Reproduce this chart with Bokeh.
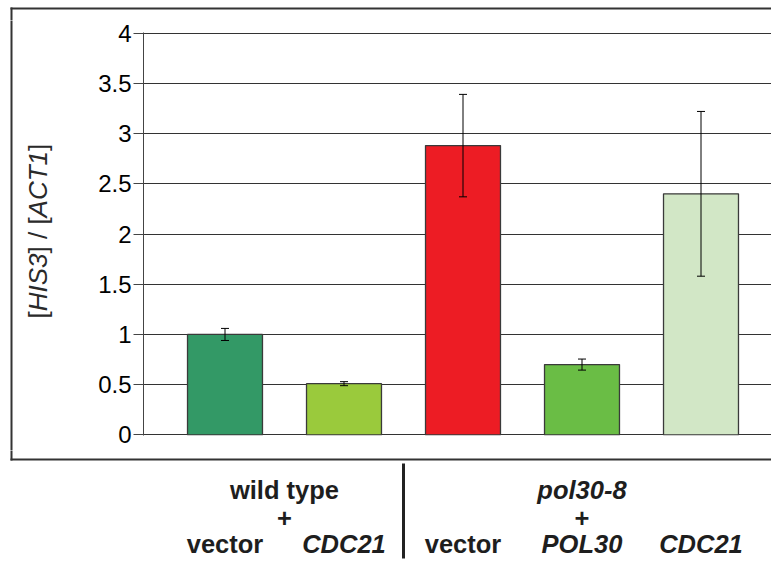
import math
from bokeh.plotting import figure
from bokeh.layouts import column, row
from bokeh.models import (Range1d, ColumnDataSource, Whisker, TeeHead,
                          FixedTicker, NumeralTickFormatter)
from bokeh.core.properties import value
from bokeh.embed import file_html
from bokeh.resources import INLINE

# ---------------- data ----------------
categories = ["wild type + vector", "wild type + CDC21",
              "pol30-8 + vector", "pol30-8 + POL30", "pol30-8 + CDC21"]
values = [1.00, 0.51, 2.88, 0.70, 2.40]
errors = [0.06, 0.02, 0.51, 0.055, 0.82]
colors = ["#339966", "#9aca3c", "#ed1c24", "#6abd45", "#d2e7c6"]
y_ticks = [0, 0.5, 1, 1.5, 2, 2.5, 3, 3.5, 4]
y_tick_labels = ["0", "0.5", "1", "1.5", "2", "2.5", "3", "3.5", "4"]
group_labels = ["wild type", "pol30-8"]
group_italic = [False, True]
group_members = [[0, 1], [2, 3, 4]]
sub_labels = ["vector", "CDC21", "vector", "POL30", "CDC21"]
sub_italic = [False, True, False, True, True]
y_label_parts = ["[", "HIS3", "] / [", "ACT1", "]"]
y_label_italic = [False, True, False, True, False]

# ---------------- layout (page pixels) ----------------
W, H = 771, 563
TOP_H = 20          # strip above chart
LEFT_W = 95         # strip left of chart
CHART_H = 430       # chart figure height
BOT_H = H - TOP_H - CHART_H
FRAME_L = 143       # page x of the y axis
FRAME_T = 32        # page y of value 4
FRAME_B = 435       # page y of value 0
PX_CAT = 119.0
X0 = 1 - (224.5 - FRAME_L) / PX_CAT
X1 = X0 + (W - FRAME_L) / PX_CAT
YPAD = 0.006
BOX_L, BOX_T, BOX_B = 11, 8, 459
LINE_C = "#333333"
FONT = "Liberation Sans"
TXT_SHIFT = 8.5     # baseline compensation for text glyphs


def xcat(px):
    return X0 + (px - FRAME_L) / PX_CAT


def yup(py):
    return H - py


def plain_fig(w, h, xr, yr):
    f = figure(width=w, height=h, x_range=xr, y_range=yr,
               output_backend="svg", toolbar_location=None,
               x_axis_type=None, y_axis_type=None,
               min_border=0, min_border_left=0, min_border_right=0,
               min_border_top=0, min_border_bottom=0)
    f.frame_align = False
    f.outline_line_color = None
    f.xgrid.visible = False
    f.ygrid.visible = False
    f.background_fill_color = "white"
    f.border_fill_color = "white"
    return f


xs = [i + 1 for i in range(len(categories))]

# ---------------- top strip ----------------
top = plain_fig(W, TOP_H, Range1d(0, W), Range1d(yup(TOP_H), yup(0)))
top.segment(x0=[BOX_L, BOX_L], y0=[yup(BOX_T), yup(BOX_T)],
            x1=[W + 20, BOX_L], y1=[yup(BOX_T), yup(TOP_H + 2)],
            line_color=LINE_C, line_width=2, line_cap="square")

# ---------------- left strip ----------------
left = plain_fig(LEFT_W, CHART_H, Range1d(0, LEFT_W),
                 Range1d(yup(TOP_H + CHART_H), yup(TOP_H)))
left.segment(x0=[BOX_L], y0=[yup(TOP_H - 2)], x1=[BOX_L], y1=[yup(TOP_H + CHART_H + 2)],
             line_color=LINE_C, line_width=2)
part_widths = [7.2, 57.8, 36.1, 66.5, 7.2]
ylab_y, off = [], 0.0
for w in part_widths:
    ylab_y.append(yup(318 - off))
    off += w
ylab_src = ColumnDataSource(dict(
    x=[37] * len(y_label_parts), y=ylab_y, text=y_label_parts,
    style=["italic" if it else "normal" for it in y_label_italic]))
left.text(x="x", y="y", text="text", source=ylab_src, angle=math.pi / 2,
          text_align="left", text_baseline="middle", text_font=value(FONT),
          text_font_style="style", text_font_size=value("26px"),
          text_color="#2a2a2a")

# ---------------- chart ----------------
src = ColumnDataSource(dict(
    x=xs, top=values, color=colors,
    upper=[v + e for v, e in zip(values, errors)],
    lower=[v - e for v, e in zip(values, errors)],
))
p = figure(width=W - LEFT_W, height=CHART_H, x_range=Range1d(X0, X1),
           y_range=Range1d(-YPAD, 4 + YPAD),
           output_backend="svg", toolbar_location=None,
           min_border_left=FRAME_L - LEFT_W, min_border_right=0,
           min_border_top=FRAME_T - TOP_H,
           min_border_bottom=TOP_H + CHART_H - FRAME_B)
p.frame_align = False
p.outline_line_color = None
p.background_fill_color = "white"
p.border_fill_color = "white"

p.vbar(x="x", top="top", bottom=0, width=0.63, fill_color="color",
       line_color="#3a3a3a", line_width=1.3, source=src)
p.add_layout(Whisker(source=src, base="x", upper="upper", lower="lower",
                     level="annotation", line_color="black", line_width=1,
                     upper_head=TeeHead(size=8, line_color="black", line_width=1),
                     lower_head=TeeHead(size=8, line_color="black", line_width=1)))

p.xaxis.visible = False
p.xgrid.visible = False
p.ygrid.ticker = FixedTicker(ticks=y_ticks)
p.ygrid.grid_line_color = "#333333"
p.ygrid.grid_line_width = 1

ya = p.yaxis[0]
ya.ticker = FixedTicker(ticks=y_ticks)
ya.formatter = NumeralTickFormatter(format="0.[0]")
ya.major_label_overrides = {t: l for t, l in zip(y_ticks, y_tick_labels)}
ya.axis_line_color = "#444444"
ya.major_tick_line_color = "#444444"
ya.major_tick_out = 10
ya.major_tick_in = 0
ya.minor_tick_line_color = None
ya.major_label_standoff = 2
ya.major_label_text_font = FONT
ya.major_label_text_font_size = "24px"
ya.major_label_text_color = "black"

# ---------------- bottom strip ----------------
bot = plain_fig(W, BOT_H, Range1d(xcat(0), X1), Range1d(yup(H), yup(H - BOT_H)))
bot.segment(x0=[xcat(BOX_L), xcat(BOX_L)], y0=[yup(BOX_B), yup(H - BOT_H - 2)],
            x1=[xcat(W + 20), xcat(BOX_L)], y1=[yup(BOX_B), yup(BOX_B)],
            line_color=LINE_C, line_width=2, line_cap="square")
bot.segment(x0=[xcat(403)], y0=[yup(463)], x1=[xcat(403)], y1=[yup(558)],
            line_color="#222222", line_width=3)

lab_x, lab_y, lab_t, lab_s = [], [], [], []
for g, it, mem in zip(group_labels, group_italic, group_members):
    cx = sum(xs[m] for m in mem) / len(mem)
    lab_x += [cx, cx]
    lab_y += [yup(498 - TXT_SHIFT), yup(526 - TXT_SHIFT)]
    lab_t += [g, "+"]
    lab_s += ["bold italic" if it else "bold", "bold"]
for x, t, it in zip(xs, sub_labels, sub_italic):
    lab_x.append(x)
    lab_y.append(yup(552 - TXT_SHIFT))
    lab_t.append(t)
    lab_s.append("bold italic" if it else "bold")
lab_src = ColumnDataSource(dict(x=lab_x, y=lab_y, text=lab_t, style=lab_s))
bot.text(x="x", y="y", text="text", source=lab_src, text_align="center",
         text_baseline="alphabetic", text_font=value(FONT),
         text_font_style="style", text_font_size=value("25.5px"),
         text_color="#1e1e1e")

layout = column(top, row(left, p, spacing=0), bot, spacing=0)
open("out.html", "w").write(file_html(layout, INLINE))
